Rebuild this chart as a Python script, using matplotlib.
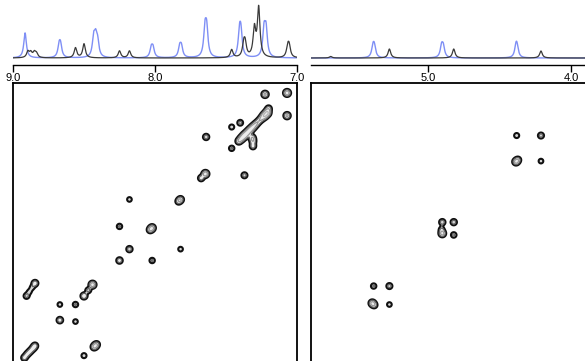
import numpy as np
import matplotlib.pyplot as plt

plt.rcParams['font.family'] = ['Liberation Sans', 'DejaVu Sans']

# 1D proton traces: (ppm, height) for the black and blue spectra
black_ppm = [8.895, 8.875, 8.85, 8.835, 8.56, 8.50, 8.25, 8.18, 7.46, 7.375, 7.365,
             7.30, 7.27, 7.065, 7.055, 5.68, 5.27, 4.82, 4.21]
black_h = [6, 5, 5, 4, 10, 14, 7, 7, 8, 12, 12, 28, 49, 10, 10, 1.5, 9, 9, 7]
blue_ppm = [8.915, 8.675, 8.665, 8.432, 8.418, 8.404, 8.026, 8.014, 7.826, 7.814,
            7.648, 7.636, 7.405, 7.395, 7.232, 7.218, 5.385, 5.375, 4.905, 4.893,
            4.385, 4.377]
blue_h = [25, 11, 11, 18, 17, 14, 9, 9, 10, 10, 26, 26, 22, 22, 26, 26, 10, 10, 11, 10, 10, 9]

# 2D cross-peak lists (x ppm, y ppm, intensity)
left_x = [7.225, 7.07, 7.07,
          7.20, 7.21, 7.23, 7.25, 7.27, 7.29, 7.31, 7.33, 7.35, 7.37, 7.39, 7.41,
          7.40, 7.315, 7.31, 7.31, 7.46, 7.46,
          7.64, 7.645, 7.675, 7.37, 7.82, 7.835, 8.18, 8.25, 8.02, 8.035, 8.18, 7.82, 8.25, 8.02,
          8.67, 8.56, 8.67, 8.56, 8.44, 8.47, 8.50,
          8.845, 8.865, 8.885, 8.905,
          8.92, 8.90, 8.88, 8.86, 8.845, 8.50, 8.43, 8.42, 8.41]
left_y = [7.08, 7.07, 7.23,
          7.18, 7.21, 7.23, 7.25, 7.27, 7.29, 7.31, 7.33, 7.35, 7.37, 7.39, 7.41,
          7.28, 7.385, 7.41, 7.445, 7.31, 7.46,
          7.38, 7.64, 7.67, 7.65, 7.82, 7.835, 7.82, 8.01, 8.02, 8.035, 8.17, 8.17, 8.25, 8.25,
          8.56, 8.56, 8.67, 8.68, 8.42, 8.46, 8.50,
          8.41, 8.44, 8.47, 8.50,
          8.935, 8.91, 8.89, 8.87, 8.85, 8.92, 8.86, 8.85, 8.84]
left_amp = [4.5, 6, 4.5,
            3, 8, 7, 3.5, 2.8, 3.5, 4.5, 5, 5, 6, 5, 3.5,
            2.5, 3.5, 3, 3, 2, 2.2,
            3, 6, 3, 2.7, 3.5, 2.5, 1.8, 2.2, 4.5, 3, 3, 1.8, 3.2, 2.2,
            1.8, 2.2, 3.3, 1.8, 6, 2.5, 4,
            3.5, 1.6, 1.6, 2.5,
            3, 2.5, 2.5, 2.5, 3, 2, 3, 2.2, 2.5]

right_x = [4.38, 4.21, 4.385, 4.37, 4.21, 4.90, 4.90, 4.905, 4.82, 4.82,
           5.38, 5.27, 5.39, 5.375, 5.27]
right_y = [7.37, 7.37, 7.555, 7.54, 7.55, 7.98, 8.06, 8.03, 7.98, 8.07,
           8.43, 8.43, 8.55, 8.565, 8.56]
right_amp = [2, 2.7, 4.5, 2.5, 1.8, 3, 5, 2, 3, 2.3,
             2.2, 2.7, 4.5, 2.5, 1.8]

W, H = 585, 361
fig = plt.figure(figsize=(W / 100, H / 100), dpi=100)


def px_axes(x0, y0, x1, y1):
    return fig.add_axes([x0 / W, 1 - y1 / H, (x1 - x0) / W, (y1 - y0) / H])


def lorentz(ppm, centers, heights, w=0.011):
    out = np.zeros_like(ppm)
    for c, h in zip(centers, heights):
        out += h / (1 + ((ppm - c) / w) ** 2)
    return out


def spectrum_2d(xs, ys, amps, xlim, ylim, s=0.015):
    gx = np.linspace(xlim[0], xlim[1], 700)
    gy = np.linspace(ylim[0], ylim[1], 700)
    X, Y = np.meshgrid(gx, gy)
    Z = np.zeros_like(X)
    for x0, y0, a in zip(xs, ys, amps):
        Z += a * np.exp(-((X - x0) ** 2 + (Y - y0) ** 2) / (2 * s ** 2))
    return X, Y, Z


levels = [1, 2, 4, 8, 16]
lcolors = ['#111111', '#666666', '#999999', '#b5b5b5', '#cccccc']
lwidths = [1.5, 0.9, 0.9, 0.9, 0.9]

y_top = 7.0
y_bot = 7.0 + 298 / 142

panels = [
    ((13, 297), (9.0, 7.0), left_x, left_y, left_amp, [9.0, 8.0, 7.0]),
    ((311, 590), (5.0 + 117 / 143, 5.0 - 162 / 143), right_x, right_y, right_amp, [5.0, 4.0]),
]

for (x0, x1), xlim, px, py, pa, ticks in panels:
    # 1D trace on top
    ax1 = px_axes(x0, 0, x1, 65)
    ppm = np.linspace(xlim[0], xlim[1], 2000)
    ax1.plot(ppm, lorentz(ppm, blue_ppm, blue_h), color='#7f8ff5', lw=1.0)
    ax1.plot(ppm, lorentz(ppm, black_ppm, black_h), color='#3a3a3a', lw=0.9)
    ax1.set_xlim(xlim)
    ax1.set_ylim(-7, 58)
    for sp in ['top', 'left', 'right']:
        ax1.spines[sp].set_visible(False)
    ax1.spines['bottom'].set_linewidth(1.0)
    ax1.set_yticks([])
    ax1.set_xticks(ticks)
    ax1.set_xticklabels(['%.1f' % t for t in ticks])
    ax1.tick_params(axis='x', direction='out', length=5, width=1, pad=1, labelsize=8)
    ax1.patch.set_alpha(0)

    # 2D contour map below
    ax2 = px_axes(x0, 83, x1, 381)
    X, Y, Z = spectrum_2d(px, py, pa, xlim, (y_top, y_bot))
    ax2.contourf(X, Y, Z, levels=[1, 3, 1e6], colors=['#d6d6d6', '#ededed'])
    ax2.contour(X, Y, Z, levels=levels, colors=lcolors, linewidths=lwidths)
    ax2.set_xlim(xlim)
    ax2.set_ylim(y_bot, y_top)
    ax2.set_xticks([])
    ax2.set_yticks([])
    for sp in ax2.spines.values():
        sp.set_linewidth(1.3)

fig.savefig('out.png', dpi=100)
